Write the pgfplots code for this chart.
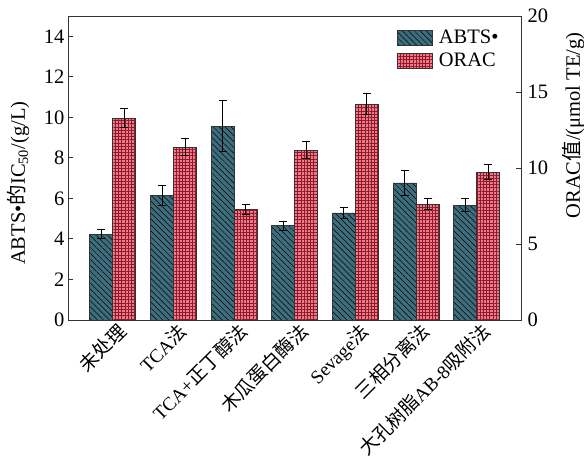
\documentclass[border=0pt]{standalone}
\usepackage{fontspec}
\setmainfont{Liberation Serif}
\newfontfamily\cjk{Noto Sans CJK SC}
\usepackage{pgfplots}
\pgfplotsset{compat=1.18}
\usetikzlibrary{patterns.meta}
\definecolor{tealbar}{HTML}{3E6E7E}
\definecolor{pinkbar}{HTML}{F07A88}
\definecolor{gridred}{HTML}{8B1A2A}
\definecolor{axgray}{HTML}{333333}

\pgfplotsset{
  abtsstyle/.style={fill=tealbar, draw=axgray, line width=0.8pt,
    postaction={pattern={Lines[angle=-45,distance=4.2bp,line width=0.5pt]}, pattern color=black}},
  oracstyle/.style={fill=pinkbar, draw=axgray, line width=0.8pt,
    postaction={pattern={Hatch[angle=0,distance=3.2bp,line width=0.45pt]}, pattern color=gridred}},
  common/.style={
    width=453bp, height=304bp, scale only axis,
    xmin=-0.74, xmax=6.73,
    font=\fontsize{20.5bp}{24bp}\selectfont,
    /pgf/number format/assume math mode=true,
    axis line style={axgray, line width=0.9pt},
    major tick length=5bp,
    tick style={axgray, line width=0.9pt},
    tick align=inside,
    ybar, bar width=23bp,
    error bars/error bar style={black, line width=1pt},
    error bars/error mark options={rotate=90, mark size=4bp, line width=1pt, black},
  },
}

\pgfplotstableread{
x abts abtserr
0 4.24 0.23
1 6.15 0.48
2 9.57 1.25
3 4.65 0.23
4 5.28 0.29
5 6.76 0.62
6 5.66 0.32
}\abtsdata

\pgfplotstableread{
x orac oracerr
0 13.27 0.63
1 11.36 0.57
2 7.28 0.35
3 11.18 0.57
4 14.19 0.68
5 7.63 0.37
6 9.72 0.48
}\oracdata

\begin{document}
\begin{tikzpicture}
\begin{axis}[common,
  ymin=0, ymax=15,
  ytick={0,2,...,14},
  ytick pos=left,
  xtick={0,...,6},
  xtick style={draw=none},
  xticklabels={{\cjk 未处理},TCA{\cjk 法},TCA+{\cjk 正丁醇法},{\cjk 木瓜蛋白酶法},Sevage{\cjk 法},{\cjk 三相分离法},{\cjk 大孔树脂}AB-8{\cjk 吸附法}},
  xticklabel style={rotate=45, anchor=north east, inner sep=1pt, xshift=6bp, yshift=1bp,
    font=\fontsize{19bp}{22bp}\selectfont},
  ylabel={ABTS•{\cjk 的}IC\textsubscript{50}/(g/L)},
  ylabel style={at={(axis description cs:-0.095,0.45)}, anchor=base},
]
\addplot[abtsstyle, bar shift=-11.5bp,
  error bars/.cd, y dir=both, y explicit]
  table[x=x, y=abts, y error=abtserr] {\abtsdata};
\end{axis}
\begin{axis}[common,
  ymin=0, ymax=20,
  ytick={0,5,...,20},
  ytick pos=right,
  yticklabel pos=right,
  yticklabel style={xshift=3bp},
  axis x line=none,
  axis y line*=right,
  ylabel={ORAC{\cjk 值}/(μmol TE/g)},
  ylabel style={at={(axis description cs:1.13,0.64)}, anchor=base},
  legend style={draw=none, fill=none, at={(axis description cs:0.726,0.96)}, anchor=north west,
    inner sep=0pt, row sep=4bp, font=\fontsize{20.5bp}{24bp}\selectfont},
  legend cell align=left,
  legend image code/.code={\draw[#1] (0bp,-7.5bp) rectangle (35bp,7.5bp); \path (39bp,0bp);},
]
\addlegendimage{abtsstyle}
\addlegendentry{ABTS•}
\addplot[oracstyle, bar shift=11.5bp,
  error bars/.cd, y dir=both, y explicit]
  table[x=x, y=orac, y error=oracerr] {\oracdata};
\addlegendentry{ORAC}
\end{axis}
\pgfresetboundingbox
\path (-68bp,-146bp) rectangle (516bp,320bp);
\end{tikzpicture}
\end{document}
